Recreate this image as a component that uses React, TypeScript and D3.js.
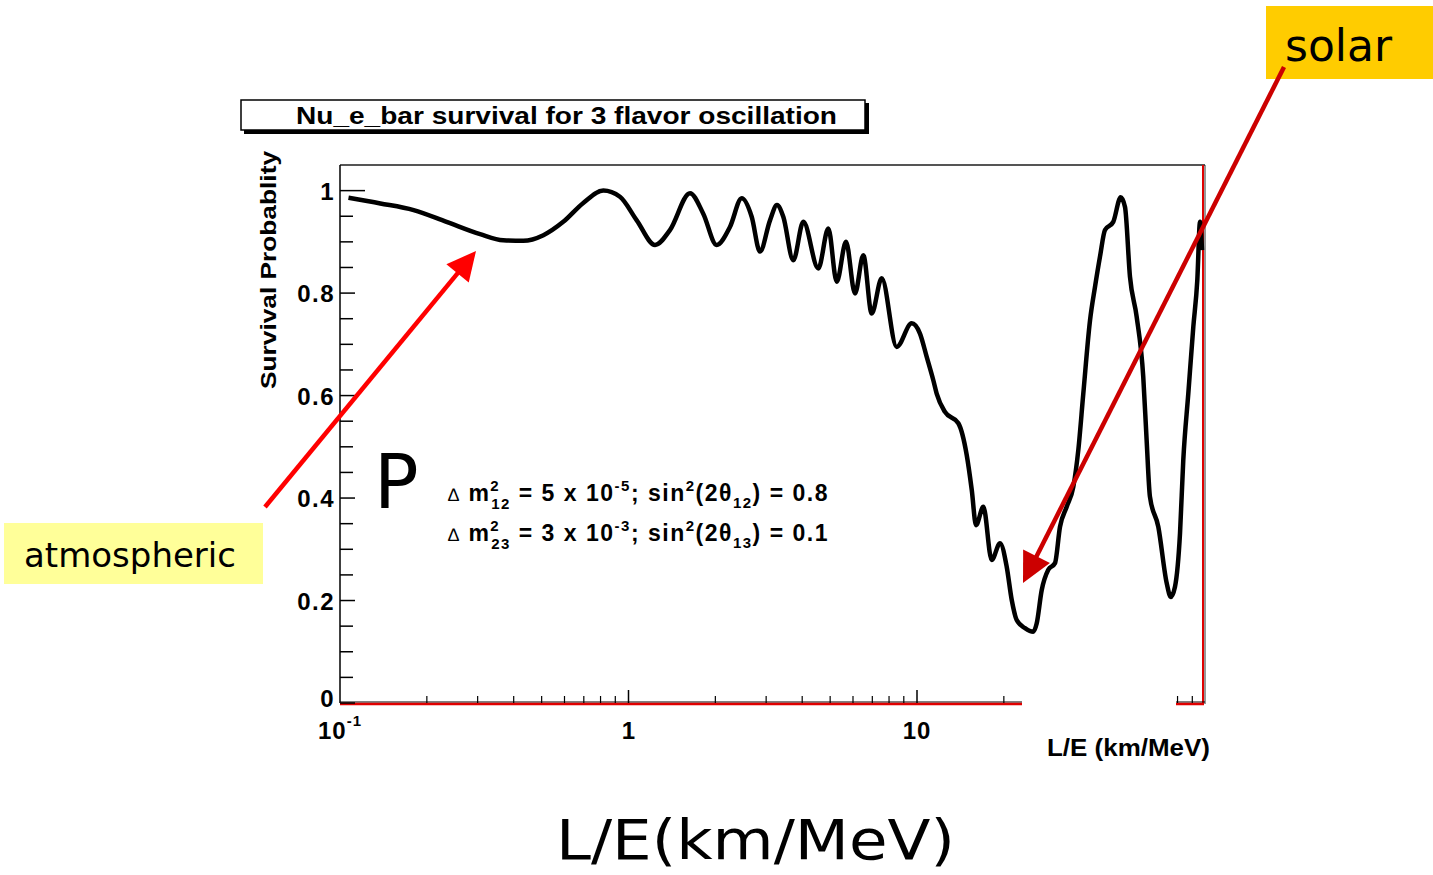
import React from "react";
import * as d3 from "d3";

// L/E (km/MeV) and survival probability
const leValues = [
  0.107, 0.138, 0.18, 0.234, 0.306, 0.368, 0.432, 0.507, 0.594, 0.697, 0.818,
  0.934, 1.068, 1.236, 1.392, 1.634, 1.816, 2.021, 2.247, 2.469, 2.673, 2.856,
  3.094, 3.271, 3.44, 3.726, 4.036, 4.549, 4.928, 5.269, 5.674, 6.097, 6.515,
  6.966, 7.545, 8.504, 9.585, 10.24, 10.8, 11.39, 11.7, 12.5, 13.91, 14.87,
  15.48, 16.02, 16.98, 18.15, 19.4, 20.46, 21.3, 22.16, 23.68, 25.3, 25.99,
  27.05, 28.51, 30.08, 31.31, 33.03, 34.82, 36.24, 37.71, 39.79, 41.4, 43.08,
  44.83, 47.89, 50.82, 52.6, 54.73, 57.72, 60.84, 62.51, 64.17, 68.61, 73.36,
  75.75, 78.39, 81.59, 83.75, 87.18, 90.73, 93.66, 95.72, 97.25,
];
const survival = [
  0.986, 0.975, 0.962, 0.939, 0.915, 0.903, 0.902, 0.913, 0.939, 0.976, 1.0,
  0.988, 0.942, 0.894, 0.923, 0.995, 0.955, 0.894, 0.929, 0.985, 0.949, 0.881,
  0.942, 0.972, 0.949, 0.864, 0.939, 0.848, 0.926, 0.822, 0.9, 0.799, 0.874,
  0.76, 0.829, 0.695, 0.741, 0.721, 0.676, 0.63, 0.604, 0.568, 0.546, 0.484,
  0.416, 0.347, 0.383, 0.279, 0.312, 0.266, 0.201, 0.162, 0.146, 0.139, 0.155,
  0.22, 0.26, 0.273, 0.344, 0.383, 0.422, 0.494, 0.604, 0.747, 0.812, 0.871,
  0.923, 0.939, 0.987, 0.968, 0.832, 0.754, 0.637, 0.513, 0.403, 0.344, 0.234,
  0.207, 0.227, 0.331, 0.474, 0.604, 0.734, 0.825, 0.939, 0.884,
];

const yMajor = [0, 0.2, 0.4, 0.6, 0.8, 1];
const yMajorLabels = ["0", "0.2", "0.4", "0.6", "0.8", "1"];
const yMinor = [0.05, 0.1, 0.15, 0.25, 0.3, 0.35, 0.45, 0.5, 0.55, 0.65, 0.7, 0.75, 0.85, 0.9, 0.95];
const xMajor = [1, 10];
const xMinor = [0.2, 0.3, 0.4, 0.5, 0.6, 0.7, 0.8, 0.9, 2, 3, 4, 5, 6, 7, 8, 9, 20, 30, 40, 50, 60, 70, 80, 90];

const FONT = "'Liberation Sans', Arial, Helvetica, sans-serif";
const SLIDE_FONT = "'DejaVu Sans', Verdana, sans-serif";

const margin = { left: 340, right: 1204, top: 165, bottom: 703 };

// arrow head polygon pointing at (x2, y2)
function arrowHead(x1: number, y1: number, x2: number, y2: number, len: number, half: number) {
  const a = Math.atan2(y2 - y1, x2 - x1);
  const bx = x2 - len * Math.cos(a);
  const by = y2 - len * Math.sin(a);
  const px = -Math.sin(a) * half;
  const py = Math.cos(a) * half;
  return `${x2},${y2} ${bx + px},${by + py} ${bx - px},${by - py}`;
}

const App = () => {
  const x = d3.scaleLog().domain([0.1, 100]).range([margin.left, 1205.5]);
  const y = d3.scaleLinear().domain([0, 1.05]).range([margin.bottom, margin.top]);

  const points = leValues.map((le, i) => [le, survival[i]] as [number, number]);
  const line = d3
    .line<[number, number]>()
    .x((d) => x(d[0]))
    .y((d) => y(d[1]))
    .curve(d3.curveMonotoneX);

  const atm = { x1: 265, y1: 507, x2: 476, y2: 251 };
  const sol = { x1: 1284, y1: 67, x2: 1023, y2: 583 };
  const shorten = (s: typeof atm, d: number) => {
    const a = Math.atan2(s.y2 - s.y1, s.x2 - s.x1);
    return { x: s.x2 - d * Math.cos(a), y: s.y2 - d * Math.sin(a) };
  };
  const atmEnd = shorten(atm, 20);
  const solEnd = shorten(sol, 20);

  const sub = 15;

  return (
    <svg
      width={1433}
      height={875}
      style={{ position: "absolute", left: 0, top: 0, background: "#fff" }}
    >
      {/* title box */}
      <rect x={244} y={103} width={625} height={31} fill="#000" />
      <rect x={241} y={100} width={624} height={30} fill="#fff" stroke="#000" strokeWidth={1.5} />
      <text
        x={296}
        y={124}
        fontFamily={FONT}
        fontSize={24}
        fontWeight="bold"
        textLength={541}
        lengthAdjust="spacingAndGlyphs"
      >
        Nu_e_bar survival for 3 flavor oscillation
      </text>

      {/* frame */}
      <line x1={margin.left} x2={1205} y1={margin.top} y2={margin.top} stroke="#555" strokeWidth={2} />
      <line x1={margin.left} x2={margin.left} y1={margin.top} y2={margin.bottom} stroke="#000" strokeWidth={1.5} />
      <line x1={1205} x2={1205} y1={margin.top} y2={margin.bottom + 1} stroke="#333" strokeWidth={1} />
      <line x1={1203} x2={1203} y1={margin.top} y2={margin.bottom + 2} stroke="#e00000" strokeWidth={2} />
      <line x1={margin.left} x2={1205} y1={margin.bottom - 1} y2={margin.bottom - 1} stroke="#000" strokeWidth={1} />
      <line x1={margin.left} x2={1204} y1={margin.bottom + 1} y2={margin.bottom + 1} stroke="#e00000" strokeWidth={2.5} />

      {/* y ticks */}
      {yMajor.map((v, i) => (
        <g key={`ym${v}`}>
          <line x1={margin.left} x2={margin.left + (v === 1 ? 25 : 15)} y1={y(v)} y2={y(v)} stroke="#000" strokeWidth={1.5} />
          <text
            x={335}
            y={y(v) + (v === 0 ? 4 : 9)}
            textAnchor="end"
            fontFamily={FONT}
            fontSize={24}
            fontWeight="bold"
            letterSpacing={1.5}
          >
            {yMajorLabels[i]}
          </text>
        </g>
      ))}
      {yMinor.map((v) => (
        <line key={`yn${v}`} x1={margin.left} x2={margin.left + 13} y1={y(v)} y2={y(v)} stroke="#000" strokeWidth={1.5} />
      ))}

      {/* x ticks */}
      {xMajor.map((v) => (
        <line key={`xm${v}`} x1={x(v)} x2={x(v)} y1={margin.bottom} y2={margin.bottom - 13} stroke="#000" strokeWidth={1.5} />
      ))}
      {xMinor.map((v) => (
        <line key={`xn${v}`} x1={x(v)} x2={x(v)} y1={margin.bottom} y2={margin.bottom - 7} stroke="#000" strokeWidth={1.2} />
      ))}

      {/* axis gap as in the slide */}
      <rect x={1022} y={688} width={154} height={24} fill="#fff" />

      {/* x labels */}
      <text x={x(0.1)} y={739} textAnchor="middle" fontFamily={FONT} fontSize={24} fontWeight="bold" letterSpacing={1}>
        10
        <tspan dy={-13} fontSize={15}>-1</tspan>
      </text>
      <text x={x(1)} y={739} textAnchor="middle" fontFamily={FONT} fontSize={24} fontWeight="bold">
        1
      </text>
      <text x={x(10)} y={739} textAnchor="middle" fontFamily={FONT} fontSize={24} fontWeight="bold" letterSpacing={1}>
        10
      </text>
      <text
        x={1047}
        y={756}
        fontFamily={FONT}
        fontSize={23}
        fontWeight="bold"
        textLength={163}
        lengthAdjust="spacingAndGlyphs"
      >
        L/E (km/MeV)
      </text>

      {/* y title */}
      <text
        transform="translate(276,270) rotate(-90)"
        textAnchor="middle"
        fontFamily={FONT}
        fontSize={22}
        fontWeight="bold"
        textLength={238}
        lengthAdjust="spacingAndGlyphs"
      >
        Survival Probablity
      </text>

      {/* curve */}
      <path d={line(points) || ""} fill="none" stroke="#000" strokeWidth={4.5} strokeLinejoin="round" />

      {/* parameters */}
      <text x={448} y={501} fontFamily={FONT} fontSize={23} fontWeight="bold" letterSpacing={1.5}>
        <tspan fontWeight="normal" fontSize={18}>∆</tspan>
        <tspan> m</tspan>
        <tspan dy={-10} fontSize={sub}>2</tspan>
        <tspan dx={-9} dy={18} fontSize={sub}>12</tspan>
        <tspan dy={-8}> = 5 x 10</tspan>
        <tspan dy={-10} fontSize={sub}>-5</tspan>
        <tspan dy={10}>; sin</tspan>
        <tspan dy={-10} fontSize={sub}>2</tspan>
        <tspan dy={10}>(2θ</tspan>
        <tspan dy={7} fontSize={sub}>12</tspan>
        <tspan dy={-7}>) = 0.8</tspan>
      </text>
      <text x={448} y={541} fontFamily={FONT} fontSize={23} fontWeight="bold" letterSpacing={1.5}>
        <tspan fontWeight="normal" fontSize={18}>∆</tspan>
        <tspan> m</tspan>
        <tspan dy={-10} fontSize={sub}>2</tspan>
        <tspan dx={-9} dy={18} fontSize={sub}>23</tspan>
        <tspan dy={-8}> = 3 x 10</tspan>
        <tspan dy={-10} fontSize={sub}>-3</tspan>
        <tspan dy={10}>; sin</tspan>
        <tspan dy={-10} fontSize={sub}>2</tspan>
        <tspan dy={10}>(2θ</tspan>
        <tspan dy={7} fontSize={sub}>13</tspan>
        <tspan dy={-7}>) = 0.1</tspan>
      </text>

      {/* slide annotations */}
      <text x={374} y={508} fontFamily={SLIDE_FONT} fontSize={74}>
        P
      </text>

      <rect x={4} y={523} width={259} height={61} fill="#ffff99" />
      <text x={24} y={567} fontFamily={SLIDE_FONT} fontSize={34}>
        atmospheric
      </text>
      <line x1={atm.x1} y1={atm.y1} x2={atmEnd.x} y2={atmEnd.y} stroke="#ff0000" strokeWidth={4.5} />
      <polygon points={arrowHead(atm.x1, atm.y1, atm.x2, atm.y2, 29, 14.5)} fill="#ff0000" />

      <rect x={1266} y={6} width={167} height={73} fill="#ffcc00" />
      <text x={1285} y={61} fontFamily={SLIDE_FONT} fontSize={44}>
        solar
      </text>
      <line x1={sol.x1} y1={sol.y1} x2={solEnd.x} y2={solEnd.y} stroke="#cc0000" strokeWidth={4.5} />
      <polygon points={arrowHead(sol.x1, sol.y1, sol.x2, sol.y2, 30, 15)} fill="#cc0000" />

      <text
        x={556}
        y={859}
        fontFamily={SLIDE_FONT}
        fontSize={56}
        textLength={399}
        lengthAdjust="spacingAndGlyphs"
      >
        L/E(km/MeV)
      </text>
    </svg>
  );
};

export default App;
